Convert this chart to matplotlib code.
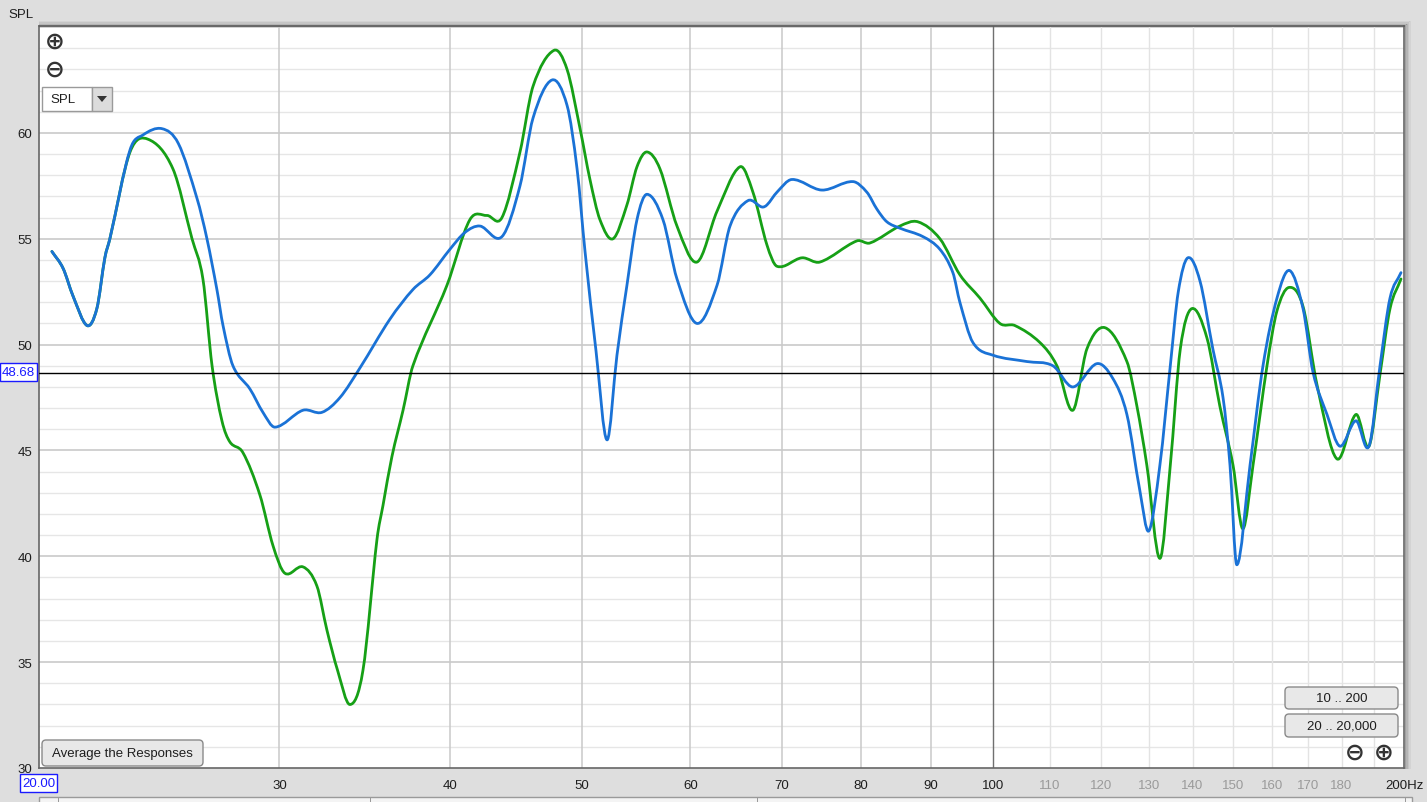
import matplotlib
matplotlib.use('Agg')
import numpy as np
import matplotlib.pyplot as plt
from matplotlib.patches import Rectangle, FancyBboxPatch, Polygon, PathPatch
from matplotlib.path import Path
from matplotlib.transforms import IdentityTransform

W, H = 1427, 803

# Curvas (frecuencia en Hz, nivel en dB SPL)
blue_freq = [20.44, 20.83, 21.18, 21.69, 22.05, 22.35, 22.54, 23.32, 23.83, 24.61, 25.3, 26.11,
             26.55, 27.00, 27.28, 27.74, 28.55, 29.18, 29.78, 31.22, 32.23, 33.23, 34.37,
             36.15, 37.58, 38.68, 40.00, 41.03, 42.08, 43.67, 45.02, 46.02, 47.52, 48.74,
             49.57, 50.24, 51.18, 52.14, 53.02, 53.92, 54.84, 55.77, 57.30, 58.67, 60.69,
             62.77, 64.16, 66.13, 67.71, 68.29, 69.45, 71.22, 74.92, 78.94, 80.82, 82.20,
             83.60, 85.45, 88.84, 91.42, 93.44, 94.55, 96.65, 99.97, 105.87, 110.61, 114.41,
             119.14, 122.39, 125.32, 128.09, 130.05, 132.49, 134.84, 136.67, 138.89, 141.77,
             144.87, 147.38, 149.13, 150.85, 154.25, 157.66, 161.43, 164.9, 168.68, 171.54,
             175.64, 179.53, 184.45, 188.53, 192.07, 195.34, 198.99]
blue_spl = [54.4, 53.6, 52.3, 50.9, 51.7, 54.1, 55.0, 59.2, 59.9, 60.2, 59.5, 56.9,
            55.0, 52.6, 50.9, 49.0, 47.9, 46.8, 46.1, 46.9, 46.8, 47.5, 48.9,
            51.2, 52.6, 53.3, 54.5, 55.3, 55.6, 55.1, 57.5, 60.7, 62.5, 61.3,
            58.3, 54.4, 49.7, 45.5, 49.5, 52.8, 55.9, 57.1, 55.9, 53.1, 51.0,
            52.8, 55.6, 56.8, 56.5, 56.6, 57.2, 57.8, 57.3, 57.7, 57.2, 56.4,
            55.8, 55.5, 55.1, 54.5, 53.4, 52.0, 50.1, 49.5, 49.2, 49.0, 48.0,
            49.1, 48.4, 46.7, 43.1, 41.2, 44.3, 49.0, 52.5, 54.1, 53.0,
            49.8, 47.5, 44.3, 39.6, 44.3, 49.0, 52.2, 53.5, 51.7, 48.7,
            46.7, 45.2, 46.4, 45.2, 49.0, 52.2, 53.4]

green_freq = [20.44, 20.83, 21.18, 21.69, 22.05, 22.35, 22.54, 23.32, 24.04, 25.07, 25.89,
              26.37, 26.78, 27.23, 27.60, 28.21, 29.03, 29.68, 30.28, 31.22, 31.96, 32.51,
              33.1, 33.79, 34.54, 35.37, 35.73, 36.27, 36.96, 37.58, 39.80, 41.37, 42.58,
              43.67, 45.02, 46.02, 47.68, 48.74, 49.82, 50.66, 51.52, 52.67, 53.92, 54.84,
              55.77, 57.01, 58.67, 60.69, 62.77, 65.25, 66.69, 68.29, 69.45, 72.44, 74.67,
              79.48, 81.24, 85.45, 88.09, 91.42, 94.55, 97.80, 101.15, 103.75, 108.21, 111.36,
              114.41, 117.15, 120.76, 125.32, 127.45, 129.61, 132.49, 134.84, 137.14, 139.83,
              143.46, 146.59, 149.89, 152.39, 155.03, 158.73, 161.43, 164.73, 168.68, 172.70,
              178.63, 184.45, 188.53, 192.07, 195.34, 198.99]
green_spl = [54.4, 53.6, 52.3, 50.9, 51.7, 54.1, 55.0, 59.1, 59.7, 58.3, 55.0,
             53.1, 49.0, 46.4, 45.4, 44.9, 42.9, 40.5, 39.2, 39.5, 38.6, 36.5,
             34.6, 33.0, 34.6, 40.8, 42.4, 44.7, 46.9, 49.0, 52.8, 55.9, 56.1,
             56.0, 59.1, 62.2, 63.9, 63.0, 60.2, 57.8, 55.9, 55.0, 56.6, 58.4,
             59.1, 58.3, 55.6, 53.9, 56.3, 58.4, 57.2, 54.7, 53.7, 54.1, 53.9,
             54.9, 54.8, 55.6, 55.8, 55.0, 53.3, 52.2, 51.0, 50.9, 50.1, 49.0,
             46.9, 49.8, 50.8, 49.2, 47.1, 44.3, 39.9, 44.3, 49.8, 51.7,
             50.3, 47.1, 44.3, 41.3, 44.3, 49.0, 51.6, 52.7, 51.8, 48.1,
             44.6, 46.7, 45.2, 48.6, 51.7, 53.1]

y_ticks = [30, 35, 40, 45, 50, 55, 60]
x_ticks = [30, 40, 50, 60, 70, 80, 90, 100, 200]
x_tick_labels = ['30', '40', '50', '60', '70', '80', '90', '100', '200Hz']
x_minor = [110, 120, 130, 140, 150, 160, 170, 180]
cursor_spl = 48.68
cursor_freq = 100

BLUE = '#1a72d6'
GREEN = '#16a016'

plt.rcParams['font.family'] = ['Liberation Sans', 'DejaVu Sans']


def smooth_path(freq, spl):
    # trazo suave (curvas de Bézier) que pasa por los puntos leídos, en eje logarítmico
    x = np.log10(freq)
    y = np.asarray(spl, dtype=float)
    n = len(x)
    m = np.zeros(n)
    m[0] = (y[1] - y[0]) / (x[1] - x[0])
    m[-1] = (y[-1] - y[-2]) / (x[-1] - x[-2])
    m[1:-1] = (y[2:] - y[:-2]) / (x[2:] - x[:-2])
    verts = [(freq[0], y[0])]
    codes = [Path.MOVETO]
    for i in range(n - 1):
        h = x[i + 1] - x[i]
        verts += [(10 ** (x[i] + h / 3), y[i] + m[i] * h / 3),
                  (10 ** (x[i + 1] - h / 3), y[i + 1] - m[i + 1] * h / 3),
                  (freq[i + 1], y[i + 1])]
        codes += [Path.CURVE4] * 3
    return Path(verts, codes)


fig = plt.figure(figsize=(W / 100, H / 100), dpi=100, facecolor='#dedede')
ax = fig.add_axes([39 / W, 34 / H, 1365 / W, 742 / H])
ax.set_facecolor('white')
ax.set_xscale('log')
ax.set_xlim(20, 200)
ax.set_ylim(30, 65.05)

# rejilla: cada 1 dB, más marcada cada 5 dB
for v in range(31, 66):
    if v % 5 == 0:
        ax.axhline(v, color='#c9c9c9', lw=1.2, zorder=0)
    else:
        ax.axhline(v, color='#e6e6e6', lw=1.0, zorder=0)
for f in x_ticks[:-2]:
    ax.axvline(f, color='#c9c9c9', lw=1.1, zorder=0)
for f in x_minor + [190]:
    ax.axvline(f, color='#e3e3e3', lw=1.0, zorder=0)

# cursores
ax.axvline(cursor_freq, color='#707070', lw=1.0, zorder=1)
ax.axhline(cursor_spl, color='black', lw=1.0, zorder=4)

ax.add_patch(PathPatch(smooth_path(green_freq, green_spl), fill=False, edgecolor=GREEN,
                       lw=2.0, zorder=3, capstyle='round', joinstyle='round'))
ax.add_patch(PathPatch(smooth_path(blue_freq, blue_spl), fill=False, edgecolor=BLUE,
                       lw=2.0, zorder=3, capstyle='round', joinstyle='round'))

ax.set_yticks(y_ticks)
ax.set_yticklabels([str(t) for t in y_ticks])
ax.set_xticks(x_ticks)
ax.set_xticklabels(x_tick_labels)
ax.set_xticks(x_minor, minor=True)
ax.set_xticklabels([str(t) for t in x_minor], minor=True)
ax.set_yticks([], minor=True)
ax.tick_params(axis='y', length=0, pad=5, labelsize=9.5, labelcolor='#1e1e1e')
ax.tick_params(axis='x', which='both', length=0, pad=8, labelsize=9.5, labelcolor='#1e1e1e')
for lbl in ax.get_xticklabels(minor=True):
    lbl.set_color('#9a9a9a')

for s in ax.spines.values():
    s.set_color('#666666')
    s.set_linewidth(1.2)


# --- elementos de la interfaz en coordenadas de píxel ---
def px_rect(x0, y0, x1, y1, **kw):
    r = Rectangle((x0, H - y1), x1 - x0, y1 - y0, transform=IdentityTransform(), **kw)
    fig.add_artist(r)
    return r


def px_button(x0, y0, x1, y1, label):
    b = FancyBboxPatch((x0, H - y1), x1 - x0, y1 - y0, boxstyle='round,pad=0,rounding_size=4',
                       transform=IdentityTransform(), facecolor='#e8e8e8', edgecolor='#8a8a8a', lw=1.0)
    fig.add_artist(b)
    fig.text((x0 + x1) / 2, H - (y0 + y1) / 2, label, transform=IdentityTransform(),
             ha='center', va='center', fontsize=9.5, color='#1e1e1e')


def px_text(x, y, s, **kw):
    return fig.text(x, H - y, s, transform=IdentityTransform(), **kw)


# sombra del marco (arriba y a la derecha)
for i, a in enumerate([0.45, 0.3, 0.18, 0.08]):
    px_rect(39, 26 - i * 1.5, 1405 + i * 1.5, 27.5 - i * 1.5, facecolor='#555555', alpha=a, lw=0)
    px_rect(1404.5 + i * 1.5, 26 - i * 1.5, 1406 + i * 1.5, 770, facecolor='#555555', alpha=a, lw=0)

px_text(8, 15, 'SPL', ha='left', va='center', fontsize=9.5, color='#1e1e1e')

# iconos de zoom
for (x, y, s) in [(55, 42, '⊕'), (55, 70, '⊖'), (1355, 753, '⊖'), (1384, 753, '⊕')]:
    px_text(x, y, s, ha='center', va='center', fontsize=17, fontweight='bold',
            color='#333333', family=['DejaVu Sans'])

# selector SPL
px_rect(42, 88, 92, 112, facecolor='white', edgecolor='#9a9a9a', lw=1.0)
px_rect(92, 88, 112, 112, facecolor='#dcdcdc', edgecolor='#9a9a9a', lw=1.0)
px_text(50, 100, 'SPL', ha='left', va='center', fontsize=9.5, color='#1e1e1e')
fig.add_artist(Polygon([[97, H - 97], [107, H - 97], [102, H - 103]], closed=True,
                       transform=IdentityTransform(), facecolor='#333333', lw=0))

px_button(42, 741, 203, 767, 'Average the Responses')
px_button(1285, 688, 1398, 710, '10 .. 200')
px_button(1285, 715, 1398, 738, '20 .. 20,000')

# etiquetas del cursor
px_rect(0, 364, 37, 382, facecolor='white', edgecolor='#1a1aff', lw=1.0)
px_text(18.5, 373, '48.68', ha='center', va='center', fontsize=9.5, color='#1a1aff')
px_rect(20, 775, 57, 793, facecolor='white', edgecolor='#1a1aff', lw=1.0)
px_text(38.5, 784, '20.00', ha='center', va='center', fontsize=9.5, color='#1a1aff')

# barra de desplazamiento inferior
px_rect(39, 798, 1412, 806, facecolor='#f4f4f4', edgecolor='#9a9a9a', lw=1.0)
for x in [58, 370, 757, 1405]:
    px_rect(x, 798, x + 1, 803, facecolor='#9a9a9a', lw=0)

fig.savefig('out.png', dpi=100, facecolor=fig.get_facecolor())
